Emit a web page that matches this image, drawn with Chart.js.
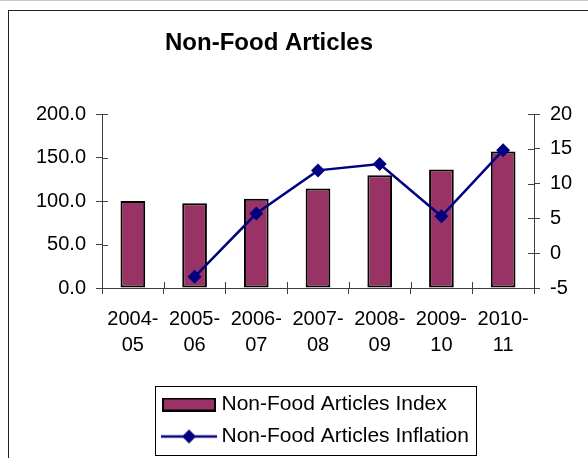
<!DOCTYPE html>
<html>
<head>
<meta charset="utf-8">
<title>Non-Food Articles</title>
<script src="https://cdn.jsdelivr.net/npm/chart.js@4.4.1/dist/chart.umd.min.js"></script>
<style>
    html, body { margin: 0; padding: 0; background: #fff; }
    canvas { display: block; }
</style>
</head>
<body>
<canvas id="nonFoodChart" width="588" height="458"></canvas>
<script>
// Anos fiscais (rótulo em duas linhas)
const years = [['2004-', '05'], ['2005-', '06'], ['2006-', '07'], ['2007-', '08'], ['2008-', '09'], ['2009-', '10'], ['2010-', '11']];
// Índice de artigos não alimentares (2004-05 = 100)
const indexValues = [100, 97.3, 102.7, 114.4, 129.6, 136.2, 157.0];
// Inflação anual (%), sem valor para o ano base
const inflationValues = [null, -3.4, 5.7, 11.9, 12.8, 5.3, 14.8];

const titleText = 'Non-Food Articles';
const indexLabel = 'Non-Food Articles Index';
const inflationLabel = 'Non-Food Articles Inflation';

const FONT = "'Liberation Sans', Arial, Helvetica, sans-serif";
const BAR_COLOR = '#993366';
const LINE_COLOR = '#000080';
const AXIS_COLOR = '#404040';

Chart.defaults.font.family = FONT;
Chart.defaults.color = '#000';

// Ícones da legenda desenhados num canvas à parte
function makeBarIcon() {
    const c = document.createElement('canvas');
    c.width = 54; c.height = 14;
    const ctx = c.getContext('2d');
    ctx.fillStyle = BAR_COLOR;
    ctx.fillRect(1, 1, 52, 12);
    ctx.strokeStyle = '#000';
    ctx.lineWidth = 2;
    ctx.strokeRect(1, 1, 52, 12);
    return c;
}

function makeLineIcon() {
    const c = document.createElement('canvas');
    c.width = 56; c.height = 18;
    const ctx = c.getContext('2d');
    ctx.strokeStyle = LINE_COLOR;
    ctx.lineWidth = 2.5;
    ctx.beginPath();
    ctx.moveTo(0, 9); ctx.lineTo(56, 9);
    ctx.stroke();
    ctx.fillStyle = LINE_COLOR;
    ctx.beginPath();
    ctx.moveTo(28, 2); ctx.lineTo(35, 9); ctx.lineTo(28, 16); ctx.lineTo(21, 9);
    ctx.closePath();
    ctx.fill();
    return c;
}

const legendIcons = [makeBarIcon(), makeLineIcon()];

// Moldura externa, título, caixa da legenda e marcas que cruzam os eixos
const decorations = {
    id: 'decorations',
    afterLayout(chart) {
        // linhas da legenda com a mesma largura para alinharem à esquerda
        const lg = chart.legend;
        if (lg && lg.lineWidths) {
            const w = Math.max(...lg.lineWidths);
            lg.lineWidths = lg.lineWidths.map(() => w);
        }
    },
    beforeDatasetsDraw(chart) {
        const { ctx, chartArea } = chart;
        const x = chart.scales.x, y = chart.scales.y, y1 = chart.scales.y1;
        const inner = 6;
        ctx.save();
        ctx.strokeStyle = AXIS_COLOR;
        ctx.lineWidth = 1;
        ctx.beginPath();
        const n = x.ticks.length;
        for (let i = 0; i <= n; i++) {
            const px = Math.round(chartArea.left + i * (chartArea.right - chartArea.left) / n) + 0.5;
            ctx.moveTo(px, chartArea.bottom);
            ctx.lineTo(px, chartArea.bottom - inner);
        }
        y.ticks.forEach((t, i) => {
            const py = Math.round(y.getPixelForTick(i)) + 0.5;
            ctx.moveTo(chartArea.left, py);
            ctx.lineTo(chartArea.left + inner, py);
        });
        y1.ticks.forEach((t, i) => {
            const py = Math.round(y1.getPixelForTick(i)) + 0.5;
            ctx.moveTo(chartArea.right, py);
            ctx.lineTo(chartArea.right - inner, py);
        });
        ctx.stroke();
        ctx.restore();
    },
    afterDraw(chart) {
        const { ctx } = chart;
        ctx.save();
        // moldura
        ctx.strokeStyle = '#c8c8c8';
        ctx.lineWidth = 1;
        ctx.beginPath();
        ctx.moveTo(0, 0.5); ctx.lineTo(chart.width, 0.5);
        ctx.stroke();
        ctx.strokeStyle = '#222';
        ctx.strokeRect(8.5, 10.5, chart.width + 20, chart.height + 20);

        // título
        ctx.fillStyle = '#000';
        ctx.font = 'bold 24px ' + FONT;
        ctx.textAlign = 'center';
        ctx.textBaseline = 'middle';
        ctx.fillText(titleText, 269, 43);

        // caixa em volta da legenda
        const boxes = chart.legend.legendHitBoxes;
        if (boxes && boxes.length) {
            const left = Math.min(...boxes.map(b => b.left)) - 12;
            const right = Math.max(...boxes.map(b => b.left + b.width)) + 7;
            const top = Math.min(...boxes.map(b => b.top)) - 8;
            const bottom = Math.max(...boxes.map(b => b.top + b.height)) + 8;
            ctx.strokeStyle = '#000';
            ctx.strokeRect(Math.round(left) + 0.5, Math.round(top) + 0.5, Math.round(right - left), Math.round(bottom - top));
        }
        ctx.restore();
    }
};

new Chart(document.getElementById('nonFoodChart').getContext('2d'), {
    type: 'bar',
    data: {
        labels: years,
        datasets: [{
            type: 'bar',
            label: indexLabel,
            data: indexValues,
            yAxisID: 'y',
            backgroundColor: BAR_COLOR,
            borderColor: '#000',
            borderWidth: 2,
            borderSkipped: false,
            barPercentage: 0.4,
            categoryPercentage: 1,
            order: 1
        }, {
            type: 'line',
            label: inflationLabel,
            data: inflationValues,
            yAxisID: 'y1',
            borderColor: LINE_COLOR,
            borderWidth: 2.5,
            backgroundColor: LINE_COLOR,
            pointStyle: 'rectRot',
            pointRadius: 7,
            pointBorderWidth: 0,
            pointBackgroundColor: LINE_COLOR,
            tension: 0,
            order: 0
        }]
    },
    options: {
        responsive: false,
        animation: false,
        layout: { padding: { top: 114, left: 8, right: 14, bottom: 1 } },
        scales: {
            x: {
                grid: { display: true, offset: true, drawOnChartArea: false, drawTicks: true, tickLength: 6, color: AXIS_COLOR },
                border: { display: true, color: AXIS_COLOR, width: 1 },
                ticks: { font: { size: 20, lineHeight: 1.3 }, color: '#000', padding: 12, maxRotation: 0, autoSkip: false },
                afterFit(scale) { scale.height = 95; }
            },
            y: {
                position: 'left',
                min: 0,
                max: 200,
                grid: { drawOnChartArea: false, drawTicks: true, tickLength: 6, color: AXIS_COLOR },
                border: { display: true, color: AXIS_COLOR, width: 1 },
                ticks: { stepSize: 50, font: { size: 20 }, color: '#000', padding: 10, callback: v => v.toFixed(1) },
                afterFit(scale) { scale.width = 94; }
            },
            y1: {
                position: 'right',
                min: -5,
                max: 20,
                grid: { drawOnChartArea: false, drawTicks: true, tickLength: 6, color: AXIS_COLOR },
                border: { display: true, color: AXIS_COLOR, width: 1 },
                ticks: { stepSize: 5, font: { size: 20 }, color: '#000', padding: 10 },
                afterFit(scale) { scale.width = 40; }
            }
        },
        plugins: {
            title: { display: false },
            tooltip: { enabled: false },
            legend: {
                display: true,
                position: 'bottom',
                fullSize: false,
                align: 'center',
                maxHeight: 75,
                labels: {
                    font: { size: 21 },
                    color: '#000',
                    padding: 11,
                    usePointStyle: true,
                    pointStyleWidth: 44,
                    boxHeight: 12,
                    sort: (a, b) => a.datasetIndex - b.datasetIndex,
                    generateLabels(chart) {
                        const items = Chart.defaults.plugins.legend.labels.generateLabels(chart);
                        items.forEach(item => { item.pointStyle = legendIcons[item.datasetIndex]; });
                        return items;
                    }
                }
            }
        }
    },
    plugins: [decorations]
});
</script>
</body>
</html>
